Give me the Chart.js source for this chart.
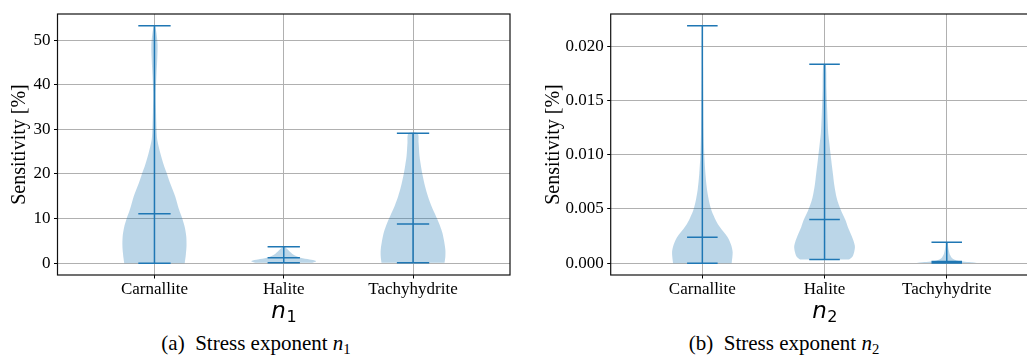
<!DOCTYPE html>
<html>
<head>
<meta charset="utf-8">
<script src="https://cdn.jsdelivr.net/npm/chart.js@4.4.0/dist/chart.umd.min.js"></script>
<style>
  body { margin: 0; background: #fff; width: 1027px; height: 360px; overflow: hidden; position: relative; }
  canvas { position: absolute; top: 0; }
  #leftChart { left: 0; }
  #rightChart { left: 534px; }
  .caption { position: absolute; top: 333px; width: 400px; text-align: center; font-family: 'Liberation Serif', serif; font-size: 21px; line-height: 21px; color: #000; white-space: nowrap; }
  .caption sub { font-size: 0.7em; line-height: 0; vertical-align: -0.25em; }
</style>
</head>
<body>
<canvas id="leftChart" width="515" height="325"></canvas>
<canvas id="rightChart" width="510" height="325"></canvas>
<div class="caption" style="left:56px">(a)&nbsp; Stress exponent <i>n</i><sub>1</sub></div>
<div class="caption" style="left:584px">(b)&nbsp; Stress exponent <i>n</i><sub>2</sub></div>
<script>
var categories = ['Carnallite', 'Halite', 'Tachyhydrite'];

// stress exponent n1, sensitivity [%]
var n1Min = [0, 0.1, 0.1];
var n1Median = [11.1, 1.2, 8.8];
var n1Max = [53.2, 3.7, 29.1];
var n1Ticks = [0, 10, 20, 30, 40, 50];

// violin outlines: levels and half widths (in category units)
var n1CarnLevels = [0, 2, 4, 6, 8, 10, 12, 15, 18, 20, 22, 24.6, 27.6, 30, 34, 38, 42, 46, 49, 51.5, 53.2];
var n1CarnWidths = [0.234, 0.243, 0.248, 0.246, 0.235, 0.215, 0.19, 0.16, 0.12, 0.097, 0.072, 0.046, 0.022, 0.016, 0.012, 0.01, 0.015, 0.022, 0.024, 0.016, 0.004];
var n1HalLevels = [0.1, 0.3, 0.5, 0.8, 1.2, 1.6, 2.0, 2.4, 2.8, 3.2, 3.7];
var n1HalWidths = [0.22, 0.245, 0.25, 0.2, 0.13, 0.095, 0.07, 0.055, 0.04, 0.025, 0.008];
var n1TachLevels = [0.1, 1.5, 3, 5, 7, 9, 11, 13, 15, 17, 20, 22, 24, 27, 29.1];
var n1TachWidths = [0.244, 0.25, 0.25, 0.24, 0.225, 0.2, 0.17, 0.14, 0.115, 0.095, 0.072, 0.06, 0.05, 0.043, 0.035];

// stress exponent n2, sensitivity [%]
var n2Min = [0, 0.00034, 0.00002];
var n2Median = [0.00239, 0.00402, 0.00015];
var n2Max = [0.0219, 0.01835, 0.00193];
var n2Ticks = [0, 0.005, 0.010, 0.015, 0.020];

var n2CarnLevels = [0, 0.001, 0.0017, 0.0024, 0.0034, 0.0042, 0.005, 0.006, 0.0068, 0.0083, 0.010, 0.012, 0.015, 0.018, 0.0219];
var n2CarnWidths = [0.24, 0.248, 0.235, 0.207, 0.139, 0.1, 0.071, 0.05, 0.038, 0.025, 0.016, 0.011, 0.008, 0.006, 0.004];
var n2HalLevels = [0.00034, 0.0006, 0.001, 0.0016, 0.0025, 0.0033, 0.004, 0.005, 0.006, 0.0072, 0.0083, 0.0095, 0.011, 0.012, 0.014, 0.016, 0.01835];
var n2HalWidths = [0.2, 0.228, 0.242, 0.248, 0.222, 0.192, 0.17, 0.13, 0.1, 0.08, 0.068, 0.055, 0.04, 0.03, 0.022, 0.016, 0.01];
var n2TachLevels = [0.00002, 0.00008, 0.00015, 0.00025, 0.0004, 0.0006, 0.0008, 0.0011, 0.0014, 0.0017, 0.00193];
var n2TachWidths = [0.245, 0.2, 0.13, 0.08, 0.05, 0.035, 0.025, 0.018, 0.013, 0.01, 0.008];

var blue = '#1f77b4';
var tickFont = { family: "'Liberation Serif', serif", size: 17 };

function violin(pos, levels, widths) {
    var pts = [];
    for (var k = 0; k < levels.length; k++) pts.push({ x: pos + widths[k], y: levels[k] });
    for (var k = levels.length - 1; k >= 0; k--) pts.push({ x: pos - widths[k], y: levels[k] });
    return {
        data: pts,
        fill: 'shape',
        backgroundColor: 'rgba(31, 119, 180, 0.3)',
        borderWidth: 0,
        pointRadius: 0,
        tension: 0.3
    };
}

function whiskers(mins, meds, maxs) {
    var pts = [];
    for (var i = 0; i < mins.length; i++) {
        pts.push({ x: i, y: mins[i] }, { x: i, y: maxs[i] }, { x: i, y: null });
        [mins[i], meds[i], maxs[i]].forEach(function (v) {
            pts.push({ x: i - 0.125, y: v }, { x: i + 0.125, y: v }, { x: i, y: null });
        });
    }
    return {
        data: pts,
        borderColor: blue,
        borderWidth: 1.5,
        pointRadius: 0,
        fill: false,
        spanGaps: false,
        tension: 0
    };
}

// black box around the plot area
var frame = {
    id: 'frame',
    afterDraw: function (chart) {
        var a = chart.chartArea, c = chart.ctx;
        c.save();
        c.strokeStyle = '#111';
        c.lineWidth = 1.2;
        c.strokeRect(a.left, a.top, a.right - a.left, a.bottom - a.top);
        c.restore();
    }
};

// x axis label: italic n with an upright subscript, like mathtext
var xLabel = {
    id: 'xLabel',
    afterDraw: function (chart, args, opts) {
        var a = chart.chartArea, c = chart.ctx;
        var cx = (a.left + a.right) / 2, base = 318;
        c.save();
        c.fillStyle = '#000';
        c.textBaseline = 'alphabetic';
        c.font = "italic 23px 'DejaVu Sans'";
        var w1 = c.measureText('n').width;
        c.font = "16px 'DejaVu Sans'";
        var w2 = c.measureText(opts.sub).width;
        var x0 = cx - (w1 + w2) / 2;
        c.font = "italic 23px 'DejaVu Sans'";
        c.fillText('n', x0, base);
        c.font = "16px 'DejaVu Sans'";
        c.fillText(opts.sub, x0 + w1 + 0.5, base + 3.5);
        c.restore();
    }
};

var gridOpts = { color: '#b0b0b0', lineWidth: 1, tickColor: '#000', tickLength: 3.5, drawTicks: true };

function makeChart(id, sets, yMin, yMax, yTicks, yFmt, sub, yWidth, padRight) {
    return new Chart(document.getElementById(id), {
        type: 'line',
        data: { datasets: sets },
        options: {
            responsive: false,
            animation: false,
            events: [],
            layout: { padding: { top: 14, right: padRight, left: 0, bottom: 0 } },
            plugins: { legend: { display: false }, tooltip: { enabled: false }, xLabel: { sub: sub } },
            scales: {
                x: {
                    type: 'linear',
                    min: -0.75,
                    max: 2.75,
                    afterBuildTicks: function (axis) {
                        axis.ticks = categories.map(function (c, i) { return { value: i }; });
                    },
                    afterFit: function (axis) { axis.height = 50; },
                    ticks: {
                        callback: function (v) { return categories[v]; },
                        font: tickFont, color: '#000', padding: 1, maxRotation: 0, autoSkip: false
                    },
                    grid: gridOpts,
                    border: { display: false }
                },
                y: {
                    min: yMin,
                    max: yMax,
                    afterBuildTicks: function (axis) {
                        axis.ticks = yTicks.map(function (v) { return { value: v }; });
                    },
                    afterFit: function (axis) { axis.width = yWidth; },
                    ticks: { callback: yFmt, font: tickFont, color: '#000', padding: 3.5 },
                    grid: gridOpts,
                    border: { display: false },
                    title: {
                        display: true, text: 'Sensitivity [%]', color: '#000',
                        padding: { top: 8, bottom: 0 },
                        font: { family: "'Liberation Serif', serif", size: 20 }
                    }
                }
            }
        },
        plugins: [frame, xLabel]
    });
}

var leftChart = makeChart('leftChart', [
    whiskers(n1Min, n1Median, n1Max),
    violin(0, n1CarnLevels, n1CarnWidths),
    violin(1, n1HalLevels, n1HalWidths),
    violin(2, n1TachLevels, n1TachWidths)
], -2.66, 55.86, n1Ticks, function (v) { return String(v); }, '1', 57.5, 5);

var rightChart = makeChart('rightChart', [
    whiskers(n2Min, n2Median, n2Max),
    violin(0, n2CarnLevels, n2CarnWidths),
    violin(1, n2HalLevels, n2HalWidths),
    violin(2, n2TachLevels, n2TachWidths)
], -0.001095, 0.022995, n2Ticks, function (v) { return v.toFixed(3); }, '2', 76.7, 5.6);
</script>
</body>
</html>
